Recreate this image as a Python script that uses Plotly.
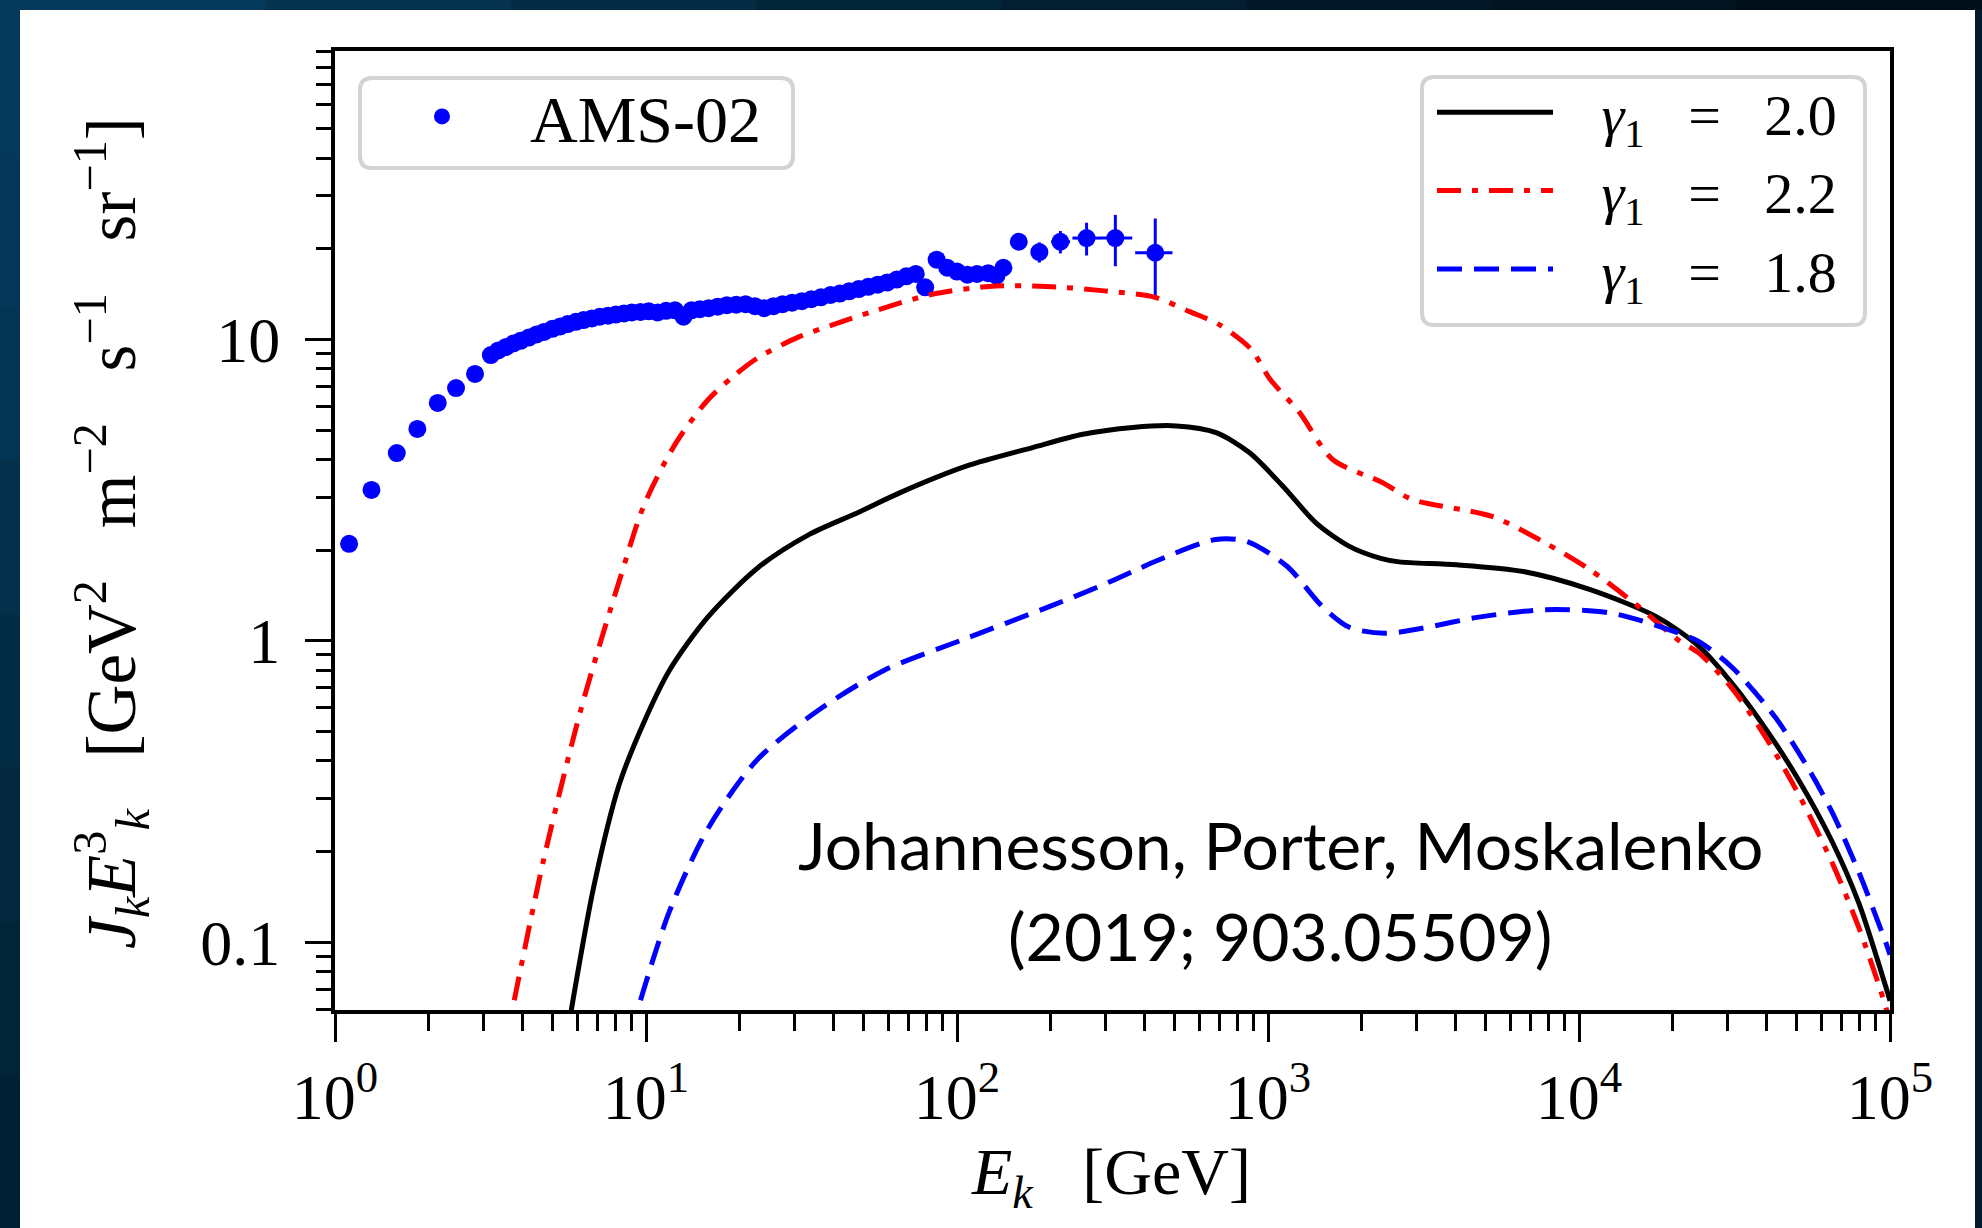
import plotly.graph_objects as go

# ---------------- data ----------------
ams_E = [1.11, 1.31, 1.58, 1.84, 2.14, 2.45, 2.82,
         3.17, 3.35, 3.55, 3.75, 3.95, 4.2, 4.45, 4.7, 5.0, 5.3,
         5.6, 5.95, 6.3, 6.7, 7.1, 7.55, 8.0, 8.5, 9.0, 9.6,
         10.2, 10.9, 11.6, 12.4, 13.2, 14.0, 14.9, 15.9, 17.0, 18.2,
         19.5, 20.9, 22.4, 24.0, 25.7, 27.5, 29.5, 31.7, 34.0, 36.5,
         39.2, 42.0, 45.0, 48.3, 51.8, 55.6, 59.6, 64.0, 68.7, 73.7,
         79.0, 86.0, 93.0, 100.0, 108.0, 116.0, 126.0, 134.0, 141.0,
         158.0, 184.0, 215.0, 261.0, 323.0, 434.0]
ams_v = [2.10, 3.17, 4.2, 5.05, 6.16, 6.9, 7.69,
         8.88, 9.2, 9.45, 9.7, 9.9, 10.15, 10.4, 10.6, 10.85, 11.05,
         11.25, 11.45, 11.6, 11.75, 11.9, 12.0, 12.1, 12.2, 12.3, 12.35,
         12.4, 12.3, 12.45, 12.5, 11.9, 12.5, 12.6, 12.7, 12.85, 13.0,
         13.05, 13.1, 12.9, 12.7, 12.9, 13.1, 13.25, 13.4, 13.6, 13.8,
         14.05, 14.2, 14.45, 14.7, 14.95, 15.2, 15.45, 15.8, 16.2, 16.5,
         14.9, 18.4, 17.3, 16.8, 16.4, 16.5, 16.6, 16.3, 17.3,
         21.1, 19.5, 21.1, 21.7, 21.7, 19.4]
ams_err = [0.05] * 47 + [0.2, 0.2, 0.25, 0.25, 0.3, 0.3, 0.35, 0.35, 0.4, 0.4, 0.45, 0.5, 0.5,
                         0.55, 0.6, 0.6, 0.7, 0.7, 0.8,
                         1.2, 1.5, 1.8, 2.7, 4.2, 5.8]
ams_errx_minus = [0.0] * 66 + [8, 10, 14, 26, 33, 60]
ams_errx_plus = [0.0] * 66 + [8, 10, 16, 30, 43, 59]

g20_E = [5.75, 6.8, 8.2, 9.89, 11.9, 15.8, 22.9, 33.3, 48.5, 65.4, 107, 175, 254, 367, 507, 681,
         873, 1117, 1429, 1827, 2303, 2643, 4034, 6620, 10870, 17830, 24400, 31100, 39800, 51000,
         65300, 79400, 96900, 100000]
g20_v = [0.0596, 0.154, 0.334, 0.543, 0.80, 1.20, 1.75, 2.25, 2.68, 3.10, 3.80, 4.38, 4.85, 5.11,
         5.17, 4.91, 4.21, 3.26, 2.46, 2.06, 1.88, 1.83, 1.79, 1.70, 1.48, 1.20, 0.956, 0.722,
         0.512, 0.344, 0.215, 0.135, 0.0714, 0.064]

g22_E = [3.77, 4.68, 6.19, 8.2, 9.89, 12.5, 15.8, 19.1, 22.9, 31, 40, 53.7, 82.6, 127, 194, 298,
         433, 557, 697, 881, 1014, 1262, 1614, 2339, 2902, 5250, 7820, 10870, 15140, 21040, 24370,
         31100, 39800, 51000, 65300, 79400, 93400, 100000]
g22_v = [0.0643, 0.187, 0.598, 1.58, 2.85, 4.55, 6.3, 7.55, 8.7, 10.2, 11.2, 12.4, 14.1, 15.0,
         15.0, 14.5, 13.8, 12.4, 11.2, 9.3, 7.4, 5.73, 4.0, 3.35, 2.95, 2.59, 2.11, 1.72, 1.33,
         1.0, 0.91, 0.695, 0.48, 0.308, 0.183, 0.112, 0.069, 0.0547]

g18_E = [9.6, 11.9, 15.8, 22.9, 36.6, 58.4, 107, 198, 288, 367, 441, 678, 855, 1151, 1497, 1827,
         2383, 3100, 4760, 7820, 12820, 21040, 24400, 31100, 42900, 55000, 65300, 79400, 96900,
         100000]
g18_v = [0.0643, 0.127, 0.238, 0.406, 0.598, 0.80, 1.02, 1.30, 1.52, 1.70, 1.85, 2.17, 2.14, 1.77,
         1.30, 1.11, 1.06, 1.10, 1.20, 1.27, 1.235, 1.06, 0.994, 0.817, 0.556, 0.373, 0.269,
         0.171, 0.100, 0.091]

x_tickvals = [1, 10, 100, 1000, 10000, 100000]
x_ticktext = ["10<sup>0</sup>", "10<sup>1</sup>", "10<sup>2</sup>", "10<sup>3</sup>",
              "10<sup>4</sup>", "10<sup>5</sup>"]
y_tickvals = [0.1, 1, 10]
y_ticktext = ["0.1", "1", "10"]

# ---------------- layout geometry (pixels) ----------------
W, H = 1982, 1228
L, R, T, B = 335, 1890, 51, 1010
SERIF = "Liberation Serif"
NB = "\u00a0"


def px(x):
    return (x - L) / (R - L)


def py(y):
    return (B - y) / (B - T)


def rounded(x0, y0, x1, y1, r):
    return (f"M {px(x0 + r)},{py(y0)} L {px(x1 - r)},{py(y0)} "
            f"Q {px(x1)},{py(y0)} {px(x1)},{py(y0 + r)} L {px(x1)},{py(y1 - r)} "
            f"Q {px(x1)},{py(y1)} {px(x1 - r)},{py(y1)} L {px(x0 + r)},{py(y1)} "
            f"Q {px(x0)},{py(y1)} {px(x0)},{py(y1 - r)} L {px(x0)},{py(y0 + r)} "
            f"Q {px(x0)},{py(y0)} {px(x0 + r)},{py(y0)} Z")


fig = go.Figure()

fig.add_trace(go.Scatter(
    x=ams_E, y=ams_v, mode="markers", name="AMS-02", legend="legend", showlegend=True,
    marker=dict(color="#0000ff", size=18, line=dict(width=0)),
    error_y=dict(type="data", array=ams_err, color="#0000ff", thickness=3, width=0),
    error_x=dict(type="data", array=ams_errx_plus, arrayminus=ams_errx_minus,
                 color="#0000ff", thickness=3, width=0),
))


def gname(val):
    return f"{NB*3}<i>γ</i><sub>1</sub>{NB*3}={NB*3}{val}"


fig.add_trace(go.Scatter(
    x=g20_E, y=g20_v, mode="lines", legend="legend2", name=gname("2.0"), showlegend=True,
    line=dict(color="black", width=5, shape="spline", smoothing=0.8)))
fig.add_trace(go.Scatter(
    x=g22_E, y=g22_v, mode="lines", legend="legend2", name=gname("2.2"), showlegend=True,
    line=dict(color="#ff0000", width=5, dash="24px,11px,6px,11px", shape="spline", smoothing=0.8)))
fig.add_trace(go.Scatter(
    x=g18_E, y=g18_v, mode="lines", legend="legend2", name=gname("1.8"), showlegend=True,
    line=dict(color="#0000ff", width=5, dash="25px,12px", shape="spline", smoothing=0.8)))

shapes = []
shapes.append(dict(type="rect", xref="paper", yref="paper", layer="below",
                   x0=px(20), x1=px(1975), y0=py(10), y1=py(1240),
                   fillcolor="white", line=dict(width=0)))
top_cols = ["#063a5b", "#05334f", "#042c45", "#03253a", "#021e30", "#021826", "#01131e", "#010f18"]
n = len(top_cols)
for i, c in enumerate(top_cols):
    shapes.append(dict(type="rect", xref="paper", yref="paper", layer="below",
                       x0=px(20 + i * (1962 / n)), x1=px(20 + (i + 1) * (1962 / n) + 1),
                       y0=py(0), y1=py(10), fillcolor=c, line=dict(width=0)))
left_cols = ["#063a5b", "#05375a", "#043453", "#04304c", "#032c45", "#03283f", "#022439", "#022033"]
n = len(left_cols)
for i, c in enumerate(left_cols):
    shapes.append(dict(type="rect", xref="paper", yref="paper", layer="below",
                       x0=px(0), x1=px(20), y0=py(i * H / n), y1=py((i + 1) * H / n + 1),
                       fillcolor=c, line=dict(width=0)))
shapes.append(dict(type="path", xref="paper", yref="paper", layer="above",
                   path=rounded(360, 78, 793, 168, 12),
                   line=dict(color="#d3d3d3", width=4), fillcolor="rgba(255,255,255,0.8)"))
shapes.append(dict(type="path", xref="paper", yref="paper", layer="above",
                   path=rounded(1422, 77, 1865, 325, 12),
                   line=dict(color="#d3d3d3", width=4), fillcolor="rgba(255,255,255,0.8)"))

ytitle = ("<i>J<sub>k</sub>E</i><sup>3</sup><sub><i>k</i></sub>" + NB * 3 +
          "[GeV<sup>2</sup>" + NB * 3 + "m<sup>−2</sup>" + NB * 3 + "s<sup>−1</sup>" + NB * 3 +
          "sr<sup>−1</sup>]")
annotations = [
    dict(text="<i>E<sub>k</sub></i>" + NB * 3 + "[GeV]", xref="paper", yref="paper",
         x=px(1111), y=py(1176), showarrow=False, xanchor="center", yanchor="middle",
         font=dict(family=SERIF, size=66, color="black")),
    dict(text=ytitle, xref="paper", yref="paper", x=px(111), y=py(533), textangle=-90,
         showarrow=False, xanchor="center", yanchor="middle",
         font=dict(family=SERIF, size=69, color="black")),
    dict(text="Johannesson, Porter, Moskalenko", xref="paper", yref="paper",
         x=px(1280), y=py(844), showarrow=False, xanchor="center", yanchor="middle",
         font=dict(family="Lato", size=66, color="black")),
    dict(text="(2019; 903.05509)", xref="paper", yref="paper",
         x=px(1280), y=py(935), showarrow=False, xanchor="center", yanchor="middle",
         font=dict(family="Lato", size=66, color="black")),
]

minor_x = [m * 10 ** d for d in range(0, 5) for m in range(2, 10)]
minor_y = [m * 10 ** d for d in range(-2, 2) for m in range(2, 10)]

fig.update_layout(
    width=W, height=H, autosize=False, showlegend=True,
    margin=dict(l=L, r=W - R, t=T, b=H - B, pad=0),
    paper_bgcolor="#021a2c", plot_bgcolor="white",
    shapes=shapes, annotations=annotations,
    legend=dict(x=px(354), y=py(67), xanchor="left", yanchor="top", bgcolor="rgba(0,0,0,0)",
                borderwidth=0, itemwidth=166, font=dict(family=SERIF, size=66, color="black")),
    legend2=dict(x=px(1432), y=py(68), xanchor="left", yanchor="top", bgcolor="rgba(0,0,0,0)",
                 borderwidth=0, itemwidth=116, tracegroupgap=0,
                 font=dict(family=SERIF, size=58, color="black")),
    xaxis=dict(type="log", range=[0, 5], showgrid=False, zeroline=False,
               showline=True, linecolor="black", linewidth=4, mirror=True,
               ticks="outside", ticklen=28, tickwidth=3, tickcolor="black",
               tickvals=x_tickvals, ticktext=x_ticktext,
               tickfont=dict(family=SERIF, size=64, color="black"),
               minor=dict(tickvals=minor_x, ticks="outside", ticklen=17, tickwidth=2.5,
                          tickcolor="black", showgrid=False)),
    yaxis=dict(type="log", range=[-1.224, 1.957], showgrid=False, zeroline=False,
               showline=True, linecolor="black", linewidth=4, mirror=True,
               ticks="outside", ticklen=26, tickwidth=3, tickcolor="black",
               tickvals=y_tickvals, ticktext=y_ticktext, ticklabelstandoff=12,
               tickfont=dict(family=SERIF, size=64, color="black"),
               minor=dict(tickvals=minor_y, ticks="outside", ticklen=15, tickwidth=2.5,
                          tickcolor="black", showgrid=False)),
)

fig.write_html("out.html", config={"displayModeBar": False},
               post_script="document.body.style.margin='0px';"
                           "document.body.style.background='#021a2c';")
